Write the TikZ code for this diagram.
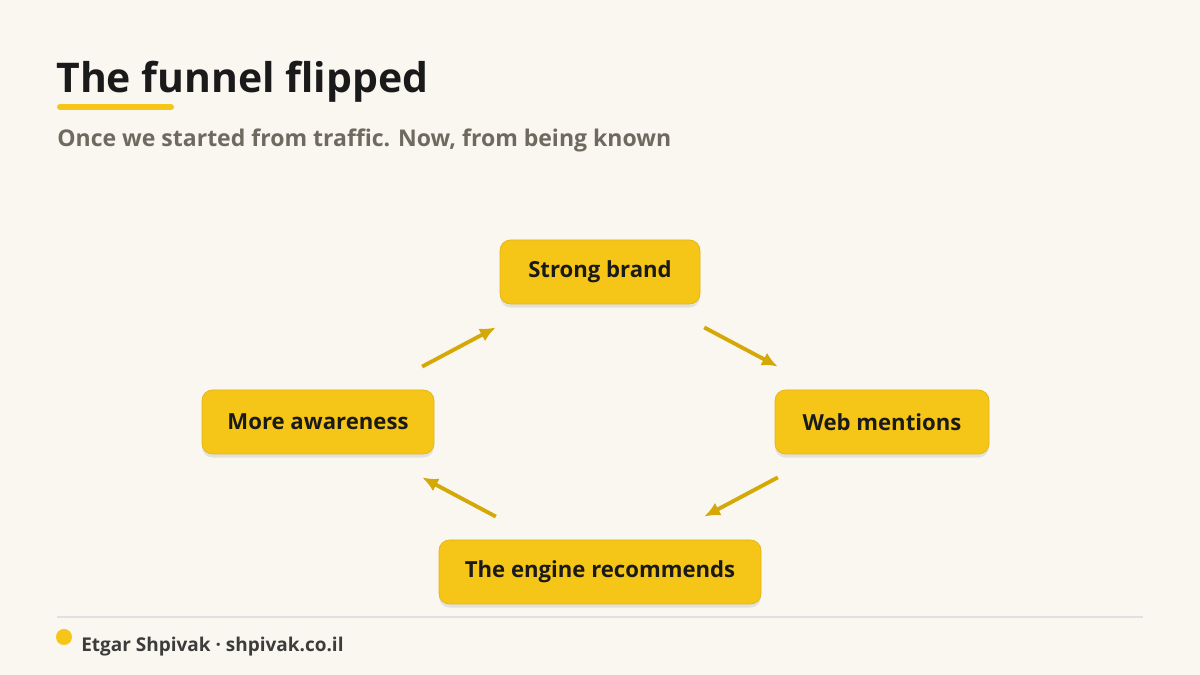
\documentclass[tikz,border=0pt]{standalone}
\usepackage{fontspec}
\setmainfont{Open Sans}
\usetikzlibrary{calc, positioning, shadows, arrows.meta}
\definecolor{bgcream}{HTML}{FAF7F0}
\definecolor{boxyellow}{HTML}{F5C518}
\definecolor{boxedge}{HTML}{E3B414}
\definecolor{arrowgold}{HTML}{D4A806}
\definecolor{inkdark}{HTML}{1A1A1A}
\definecolor{subgray}{HTML}{6E6A60}
\begin{document}
\begin{tikzpicture}[x=0.02cm,y=0.02cm,
                    step node/.style={rectangle,rounded corners=6pt,fill=boxyellow,draw=boxedge,
                      font=\bfseries\fontsize{12.6}{15}\selectfont,text=inkdark,minimum height=64*0.02cm,
                      drop shadow={shadow xshift=0pt,shadow yshift=-2pt,opacity=0.18}},
                    flow/.style={-{Latex[length=9pt,width=8pt]},line width=2.2pt,draw=arrowgold,
                      shorten <=118*0.02cm,shorten >=118*0.02cm}]
 \fill[bgcream] (0,0) rectangle (1200,675);
 \useasboundingbox (0,0) rectangle (1200,675);

 \node[anchor=base west,inner sep=0,font=\bfseries\fontsize{23.3}{28}\selectfont,text=inkdark] (Title) at (56,582) {The funnel flipped};
 \draw[line width=6*0.02cm,line cap=round,boxyellow] (60,568) -- (171,568);
 \node[anchor=base west,inner sep=0,font=\bfseries\fontsize{13.1}{16}\selectfont,text=subgray] (Sub) at (57,528) {Once we started from traffic. Now, from being known};

 \node[step node,minimum width=200*0.02cm] (Brand) at (600,403) {Strong brand};
 \node[step node,minimum width=214*0.02cm] (Web) at (882,253) {Web mentions};
 \node[step node,minimum width=322*0.02cm] (Engine) at (600,103) {The engine recommends};
 \node[step node,minimum width=232*0.02cm] (Aware) at (318,253) {More awareness};

 \draw[flow] (Aware.center) -- (Brand.center);
 \draw[flow] (Brand.center) -- (Web.center);
 \draw[flow] (Web.center) -- (Engine.center);
 \draw[flow] (Engine.center) -- (Aware.center);

 \draw[black!12,line width=0.6pt] (57,58) -- (1143,58);
 \fill[boxyellow] (64,38) circle (8);
 \node[anchor=base west,inner sep=0,font=\bfseries\fontsize{10.8}{13}\selectfont,text=inkdark!85] (Foot) at (81,23) {Etgar Shpivak · shpivak.co.il};
\end{tikzpicture}
\end{document}
